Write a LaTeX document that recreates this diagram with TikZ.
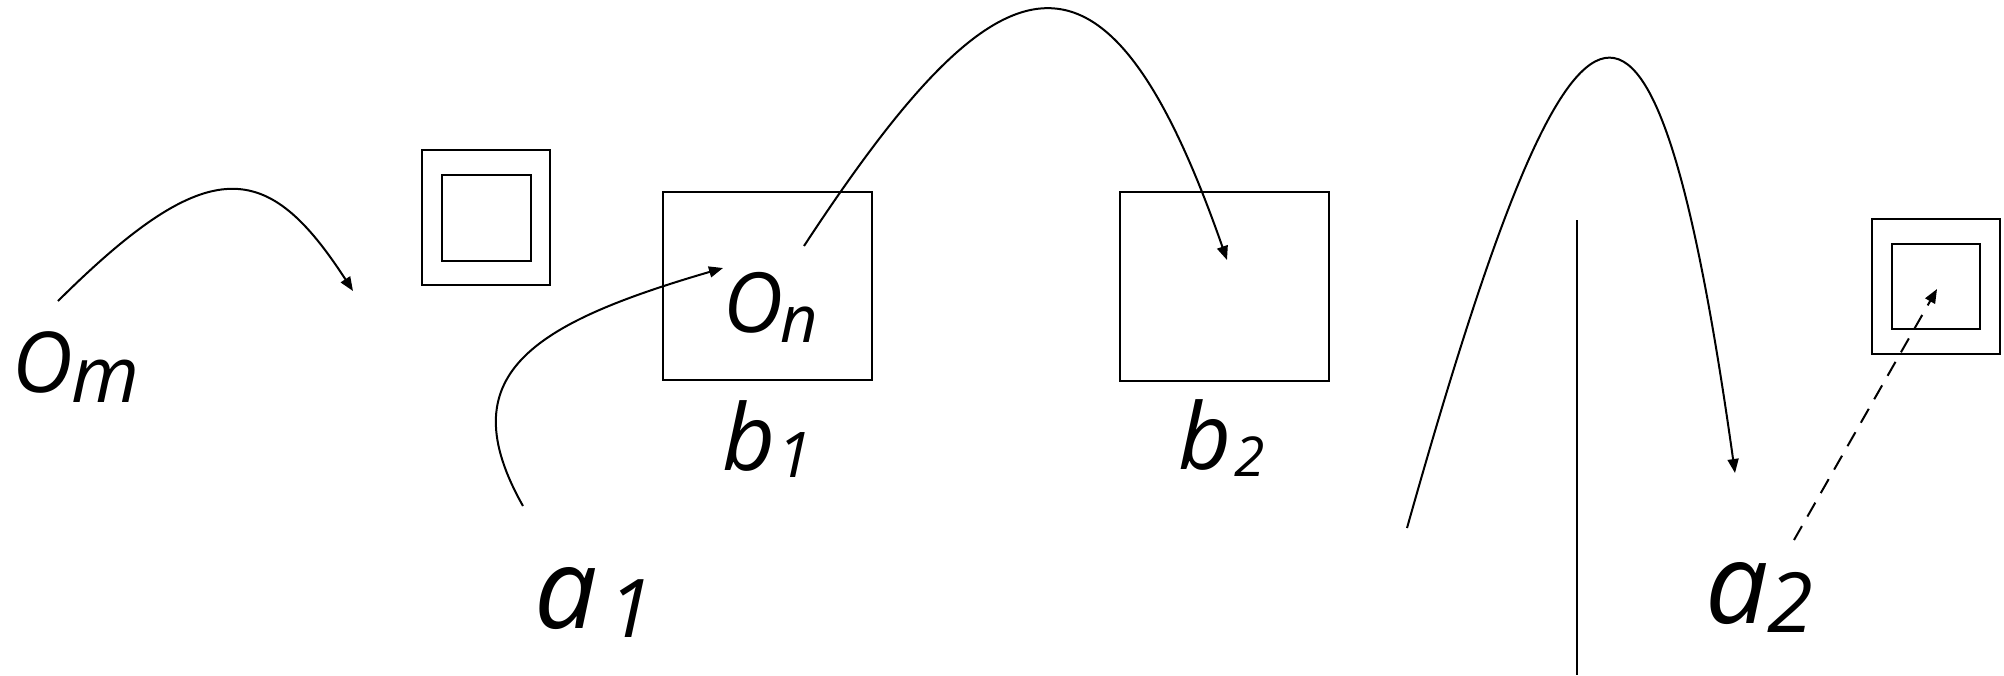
\documentclass[tikz,border=0pt]{standalone}
\usepackage{fontspec}
\setmainfont{Open Sans}
\usetikzlibrary{arrows.meta}
\newcommand\mylab[6]{\makebox[#3][l]{\fontsize{#1}{#1}\selectfont\itshape #2}\raisebox{-#6}{\fontsize{#4}{#4}\selectfont\itshape #5}}
\tikzset{
  ln/.style={line width=2pt, line cap=butt},
  arr/.style={ln, -{Triangle[length=14pt,width=11pt]}},
  boxnode/.style={draw, line width=2.2pt, inner sep=0pt, anchor=north west},
  lbl/.style={inner sep=0pt, anchor=base west},
}
\begin{document}
\begin{tikzpicture}[x=1pt,y=-1pt]
\useasboundingbox (0,0) rectangle (2004,675);
% boxes
\node[boxnode, minimum width=128pt, minimum height=135pt] (sq1out) at (421,149) {};
\node[boxnode, minimum width=89pt, minimum height=86pt] (sq1in) at (441,174) {};
\node[boxnode, minimum width=209pt, minimum height=188pt] (b1box) at (662,191) {};
\node[boxnode, minimum width=209pt, minimum height=189pt] (b2box) at (1119,191) {};
\node[boxnode, minimum width=128pt, minimum height=135pt] (sq2out) at (1871,218) {};
\node[boxnode, minimum width=88pt, minimum height=85pt] (sq2in) at (1891,243) {};
% labels
\node[lbl] (om) at (12,392) {\mylab{84pt}{O}{59pt}{78pt}{m}{10pt}};
\node[lbl] (on) at (723,332) {\mylab{83pt}{O}{57pt}{65pt}{n}{10pt}};
\node[lbl] (b1) at (722,470) {\mylab{92pt}{b}{55pt}{63pt}{1}{7pt}};
\node[lbl] (b2) at (1178,469) {\mylab{92pt}{b}{56pt}{55pt}{2}{7pt}};
\node[lbl] (a1) at (534,628) {\mylab{112pt}{a}{74pt}{81pt}{1}{9pt}};
\node[lbl] (a2) at (1705,623) {\mylab{112pt}{a}{62pt}{83pt}{2}{9pt}};
% free ends
\coordinate (c1s) at (58,301);
\coordinate (c1e) at (353,291);
\coordinate (c2s) at (523,506);
\coordinate (c2e) at (723,268);
\coordinate (c3s) at (804,246);
\coordinate (c3e) at (1227,260);
\coordinate (c4s) at (1407,528);
\coordinate (c4e) at (1735,473);
\coordinate (vt) at (1577,220);
\coordinate (vb) at (1577,675);
\coordinate (ds) at (1794,540);
\coordinate (de) at (1937,289);
% connectors
\draw[arr] (c1s) .. controls (210,150) and (268,160) .. (c1e);
\draw[arr] (c2s) .. controls (449,375) and (531,324) .. (c2e);
\draw[arr] (c3s) .. controls (998,-50) and (1104,-92) .. (c3e);
\draw[arr] (c4s) .. controls (1569,-47) and (1651,-124) .. (c4e);
\draw[ln] (vt) -- (vb);
\draw[arr, dash pattern=on 16pt off 11pt] (ds) -- (de);
\end{tikzpicture}
\end{document}
